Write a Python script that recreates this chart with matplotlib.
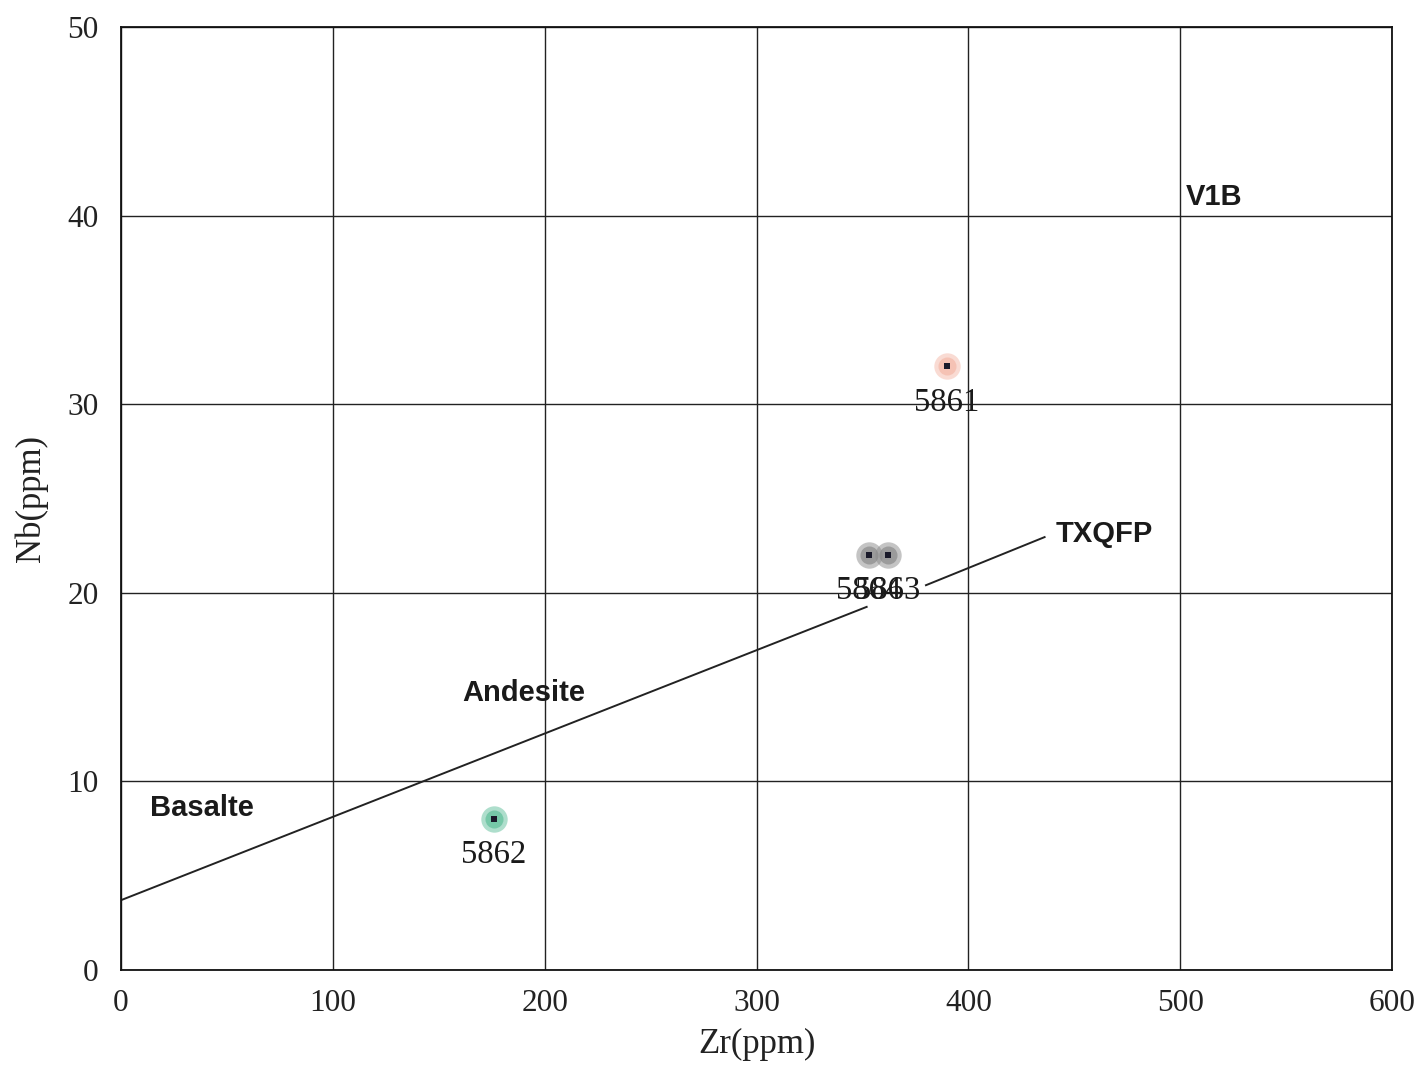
import matplotlib
matplotlib.use("Agg")
import matplotlib.pyplot as plt

# Samples (Zr, Nb in ppm)
sample_ids = ["5861", "5862", "5864", "5863"]
zr_ppm = [390, 176, 353, 362]
nb_ppm = [32, 8, 22, 22]
halo_colors = ["#f4b8a8", "#5fbf9a", "#8a8a8a", "#8a8a8a"]

# Basalt / andesite discrimination line
boundary_zr = [0, 352]
boundary_nb = [3.7, 19.25]

# Field labels
field_names = ["V1B", "TXQFP", "Andesite", "Basalte"]
field_zr = [516, 464, 190, 38]
field_nb = [41.0, 23.1, 14.7, 8.6]

# Leader from the TXQFP label towards the samples
leader_zr = [380, 436]
leader_nb = [20.4, 22.95]

x_ticks = [0, 100, 200, 300, 400, 500, 600]
y_ticks = [0, 10, 20, 30, 40, 50]

serif = ["Liberation Serif", "DejaVu Serif"]
sans = ["Liberation Sans", "DejaVu Sans"]

fig = plt.figure(figsize=(14.22, 10.68), dpi=100)
ax = fig.add_axes([0.0851, 0.0918, 0.8938, 0.8830])

ax.set_xlim(0, 600)
ax.set_ylim(0, 50)
ax.set_xticks(x_ticks)
ax.set_yticks(y_ticks)
ax.grid(True, color="#222222", linewidth=1.0)
ax.set_axisbelow(True)
ax.tick_params(length=0, labelsize=22.5)
ax.tick_params(axis="x", pad=14)
ax.tick_params(axis="y", pad=16)
for lab in ax.get_xticklabels() + ax.get_yticklabels():
    lab.set_family(serif)
    lab.set_color("#222222")
for sp in ax.spines.values():
    sp.set_color("#111111")
    sp.set_linewidth(1.3)

ax.set_xlabel("Zr(ppm)", fontsize=25, family=serif, color="#222222", labelpad=7)
ax.set_ylabel("Nb(ppm)", fontsize=25, family=serif, color="#222222", labelpad=14)

ax.plot(boundary_zr, boundary_nb, color="#222222", linewidth=1.4)
ax.plot(leader_zr, leader_nb, color="#222222", linewidth=1.4)

for sid, x, y, c in zip(sample_ids, zr_ppm, nb_ppm, halo_colors):
    ax.plot(x, y, "o", markersize=19, color=c, alpha=0.5, markeredgewidth=0)
    ax.plot(x, y, "o", markersize=13, color=c, alpha=0.7, markeredgewidth=0)
    ax.plot(x, y, "s", markersize=5, color="#1a1a2a", markeredgewidth=0)
    ax.annotate(sid, (x, y), xytext=(0, -15), textcoords="offset points",
                ha="center", va="top", fontsize=23.5, family=serif, color="#1a1a1a")

for name, x, y in zip(field_names, field_zr, field_nb):
    ax.text(x, y, name, ha="center", va="center", fontsize=21,
            fontweight="bold", family=sans, color="#1a1a1a")

fig.savefig("out.png", dpi=100, facecolor="white")
